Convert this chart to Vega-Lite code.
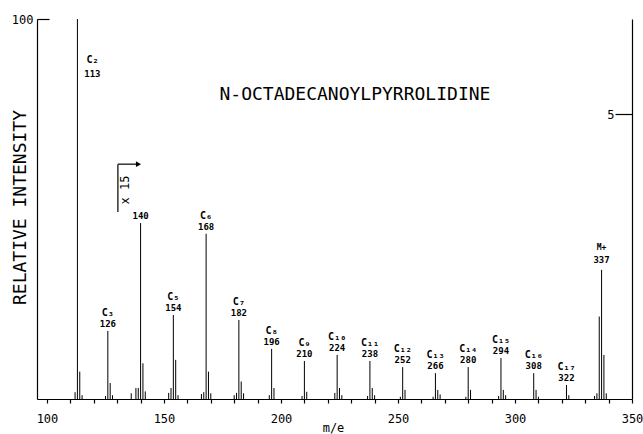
{
  "$schema": "https://vega.github.io/schema/vega-lite/v6.json",
  "width": 595,
  "height": 380,
  "autosize": {"type": "none"},
  "padding": {"left": 37, "top": 19, "right": 11, "bottom": 35},
  "background": "white",
  "config": {
    "view": {"stroke": null},
    "font": "DejaVu Sans Mono",
    "axis": {
      "grid": false,
      "domainColor": "#000",
      "tickColor": "#000",
      "labelColor": "#000",
      "titleColor": "#000",
      "labelFont": "DejaVu Sans Mono",
      "titleFont": "DejaVu Sans Mono",
      "titleFontWeight": "normal",
      "domainWidth": 1.2,
      "tickWidth": 1.2,
      "labelOverlap": false,
      "labelBound": false,
      "labelFlush": false
    }
  },
  "datasets": {
    "spectrum": [
      {"mz": 112, "intensity": 1.8}, {"mz": 113, "intensity": 100}, {"mz": 114, "intensity": 7.2}, {"mz": 115, "intensity": 1},
      {"mz": 125, "intensity": 0.8}, {"mz": 126, "intensity": 17.9}, {"mz": 127, "intensity": 4.2}, {"mz": 128, "intensity": 1},
      {"mz": 136, "intensity": 1.5}, {"mz": 138, "intensity": 2.9}, {"mz": 139, "intensity": 2.9}, {"mz": 140, "intensity": 46.3}, {"mz": 141, "intensity": 9.4}, {"mz": 142, "intensity": 2},
      {"mz": 152, "intensity": 1.6}, {"mz": 153, "intensity": 2.9}, {"mz": 154, "intensity": 22.1}, {"mz": 155, "intensity": 10.3}, {"mz": 156, "intensity": 1},
      {"mz": 166, "intensity": 1.3}, {"mz": 167, "intensity": 1.8}, {"mz": 168, "intensity": 43.5}, {"mz": 169, "intensity": 7.2}, {"mz": 170, "intensity": 1.5},
      {"mz": 180, "intensity": 1}, {"mz": 181, "intensity": 1.6}, {"mz": 182, "intensity": 20.8}, {"mz": 183, "intensity": 4.6}, {"mz": 184, "intensity": 1.5},
      {"mz": 195, "intensity": 1}, {"mz": 196, "intensity": 13.2}, {"mz": 197, "intensity": 2.9},
      {"mz": 209, "intensity": 0.8}, {"mz": 210, "intensity": 10}, {"mz": 211, "intensity": 1.9},
      {"mz": 223, "intensity": 1.6}, {"mz": 224, "intensity": 11.6}, {"mz": 225, "intensity": 2.9}, {"mz": 226, "intensity": 1},
      {"mz": 237, "intensity": 0.8}, {"mz": 238, "intensity": 10}, {"mz": 239, "intensity": 2.9}, {"mz": 240, "intensity": 1},
      {"mz": 251, "intensity": 0.6}, {"mz": 252, "intensity": 8.4}, {"mz": 253, "intensity": 2.4},
      {"mz": 265, "intensity": 0.6}, {"mz": 266, "intensity": 6.8}, {"mz": 267, "intensity": 2.4}, {"mz": 268, "intensity": 1.2},
      {"mz": 279, "intensity": 0.6}, {"mz": 280, "intensity": 8.4}, {"mz": 281, "intensity": 2.4},
      {"mz": 293, "intensity": 0.8}, {"mz": 294, "intensity": 10.8}, {"mz": 295, "intensity": 2.4}, {"mz": 296, "intensity": 1},
      {"mz": 308, "intensity": 6.8}, {"mz": 309, "intensity": 2.4}, {"mz": 310, "intensity": 0.6},
      {"mz": 322, "intensity": 3.7}, {"mz": 323, "intensity": 1},
      {"mz": 334, "intensity": 0.8}, {"mz": 335, "intensity": 1.5}, {"mz": 336, "intensity": 21.7}, {"mz": 337, "intensity": 34}, {"mz": 338, "intensity": 11.6}, {"mz": 339, "intensity": 1.5}
    ],
    "labels": [
      {"mz": 113, "h": 100, "ion": "C₂", "mass": "113"},
      {"mz": 126, "h": 17.9, "ion": "C₃", "mass": "126"},
      {"mz": 140, "h": 46.3, "ion": "", "mass": "140"},
      {"mz": 154, "h": 22.1, "ion": "C₅", "mass": "154"},
      {"mz": 168, "h": 43.5, "ion": "C₆", "mass": "168"},
      {"mz": 182, "h": 20.8, "ion": "C₇", "mass": "182"},
      {"mz": 196, "h": 13.2, "ion": "C₈", "mass": "196"},
      {"mz": 210, "h": 10, "ion": "C₉", "mass": "210"},
      {"mz": 224, "h": 11.6, "ion": "C₁₀", "mass": "224"},
      {"mz": 238, "h": 10, "ion": "C₁₁", "mass": "238"},
      {"mz": 252, "h": 8.4, "ion": "C₁₂", "mass": "252"},
      {"mz": 266, "h": 6.8, "ion": "C₁₃", "mass": "266"},
      {"mz": 280, "h": 8.4, "ion": "C₁₄", "mass": "280"},
      {"mz": 294, "h": 10.8, "ion": "C₁₅", "mass": "294"},
      {"mz": 308, "h": 6.8, "ion": "C₁₆", "mass": "308"},
      {"mz": 322, "h": 3.7, "ion": "C₁₇", "mass": "322"},
      {"mz": 337, "h": 34, "ion": "M+", "mass": "337"}
    ]
  },
  "layer": [
    {
      "layer": [
        {
          "data": {"name": "spectrum"},
          "mark": {"type": "rule", "color": "#000", "strokeWidth": 1},
          "encoding": {
            "x": {
              "field": "mz", "type": "quantitative",
              "scale": {"domain": [95.73, 350], "nice": false, "zero": false},
              "axis": {
                "values": [100, 150, 200, 250, 300, 350],
                "tickCount": 6,
                "tickSize": 4,
                "labelPadding": 10,
                "labelFontSize": 12,
                "title": "m/e",
                "titleFontSize": 12,
                "titleX": 296,
                "titleY": 28,
                "titleAlign": "center",
                "titleBaseline": "middle"
              }
            },
            "y": {
              "field": "intensity", "type": "quantitative",
              "scale": {"domain": [0, 100], "nice": false},
              "axis": {
                "values": [100],
                "tickSize": -12,
                "labelPadding": 16,
                "labelFontSize": 12,
                "title": "RELATIVE INTENSITY",
                "titleFontSize": 18,
                "titleAngle": 270,
                "titleX": -17,
                "titleY": 188,
                "titleAlign": "center",
                "titleBaseline": "middle"
              }
            },
            "y2": {"datum": 0}
          }
        },
        {
          "data": {"name": "labels"},
          "transform": [{"filter": "datum.mz != 113 && datum.mz != 337"}],
          "mark": {"type": "text", "fontSize": 9, "fontWeight": "bold", "baseline": "middle", "dy": -7, "color": "#000"},
          "encoding": {
            "x": {"field": "mz", "type": "quantitative"},
            "y": {"field": "h", "type": "quantitative"},
            "text": {"field": "mass"}
          }
        },
        {
          "data": {"name": "labels"},
          "transform": [{"filter": "datum.mz != 113 && datum.mz != 337"}],
          "mark": {"type": "text", "fontSize": 10, "fontWeight": "bold", "baseline": "middle", "dy": -18, "color": "#000"},
          "encoding": {
            "x": {"field": "mz", "type": "quantitative"},
            "y": {"field": "h", "type": "quantitative"},
            "text": {"field": "ion"}
          }
        },
        {
          "data": {"name": "labels"},
          "transform": [{"filter": "datum.mz == 113"}],
          "mark": {"type": "text", "fontSize": 9, "fontWeight": "bold", "baseline": "middle", "dx": 15, "dy": 55, "color": "#000"},
          "encoding": {
            "x": {"field": "mz", "type": "quantitative"},
            "y": {"field": "h", "type": "quantitative"},
            "text": {"field": "mass"}
          }
        },
        {
          "data": {"name": "labels"},
          "transform": [{"filter": "datum.mz == 113"}],
          "mark": {"type": "text", "fontSize": 10, "fontWeight": "bold", "baseline": "middle", "dx": 15, "dy": 41, "color": "#000"},
          "encoding": {
            "x": {"field": "mz", "type": "quantitative"},
            "y": {"field": "h", "type": "quantitative"},
            "text": {"field": "ion"}
          }
        },
        {
          "data": {"name": "labels"},
          "transform": [{"filter": "datum.mz == 337"}],
          "mark": {"type": "text", "fontSize": 9, "fontWeight": "bold", "baseline": "middle", "dy": -10, "color": "#000"},
          "encoding": {
            "x": {"field": "mz", "type": "quantitative"},
            "y": {"field": "h", "type": "quantitative"},
            "text": {"field": "mass"}
          }
        },
        {
          "data": {"name": "labels"},
          "transform": [{"filter": "datum.mz == 337"}],
          "mark": {"type": "text", "fontSize": 8, "fontWeight": "bold", "baseline": "middle", "dy": -22, "color": "#000"},
          "encoding": {
            "x": {"field": "mz", "type": "quantitative"},
            "y": {"field": "h", "type": "quantitative"},
            "text": {"field": "ion"}
          }
        },
        {
          "data": {"values": [{}]},
          "mark": {"type": "text", "text": "N-OCTADECANOYLPYRROLIDINE", "fontSize": 18, "baseline": "middle", "align": "center", "color": "#000"},
          "encoding": {
            "x": {"datum": 231.6, "type": "quantitative"},
            "y": {"datum": 80, "type": "quantitative"}
          }
        },
        {
          "data": {"values": [{}]},
          "mark": {"type": "text", "text": "x 15", "fontSize": 12, "angle": 270, "baseline": "middle", "align": "center", "color": "#000"},
          "encoding": {
            "x": {"datum": 133.3, "type": "quantitative"},
            "y": {"datum": 55, "type": "quantitative"}
          }
        },
        {
          "data": {"values": [{}]},
          "mark": {"type": "rule", "color": "#000", "strokeWidth": 1.2},
          "encoding": {
            "x": {"datum": 130.3, "type": "quantitative"},
            "y": {"datum": 49.2, "type": "quantitative"},
            "y2": {"datum": 61.8}
          }
        },
        {
          "data": {"values": [{}]},
          "mark": {"type": "rule", "color": "#000", "strokeWidth": 1.2},
          "encoding": {
            "x": {"datum": 130.3, "type": "quantitative"},
            "x2": {"datum": 139},
            "y": {"datum": 61.8, "type": "quantitative"}
          }
        },
        {
          "data": {"values": [{}]},
          "mark": {"type": "point", "shape": "triangle-right", "filled": true, "size": 35, "color": "#000", "opacity": 1},
          "encoding": {
            "x": {"datum": 139.1, "type": "quantitative"},
            "y": {"datum": 61.8, "type": "quantitative"}
          }
        }
      ]
    },
    {
      "data": {"values": [{"v": 5, "mz": 100}]},
      "mark": {"type": "rule", "opacity": 0},
      "encoding": {
        "x": {
          "field": "mz", "type": "quantitative",
          "axis": {
            "orient": "bottom",
            "values": [110, 120, 130, 140, 160, 170, 180, 190, 210, 220, 230, 240, 260, 270, 280, 290, 310, 320, 330, 340],
            "tickCount": 25,
            "tickSize": 4,
            "labels": false,
            "domain": false,
            "title": null
          }
        },
        "y": {
          "field": "v", "type": "quantitative",
          "scale": {"domain": [0, 6.667], "nice": false},
          "axis": {
            "orient": "right",
            "values": [5],
            "tickSize": -17,
            "labelPadding": -1,
            "labelAlign": "right",
            "labelFontSize": 12,
            "title": null
          }
        }
      }
    }
  ],
  "resolve": {"scale": {"y": "independent"}, "axis": {"x": "independent"}}
}
